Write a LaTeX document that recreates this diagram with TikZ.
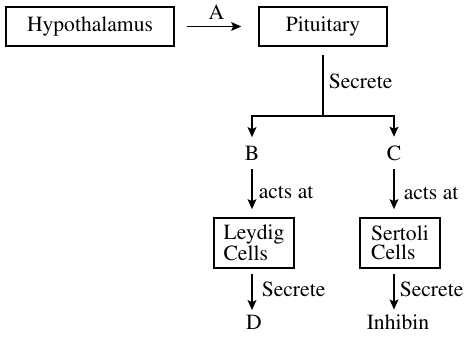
\documentclass[tikz,border=0pt]{standalone}
\usepackage[T1]{fontenc}
\usepackage{mathptmx}
\usepackage{tikz}
\usetikzlibrary{positioning,arrows.meta}

\begin{document}
\begin{tikzpicture}[->,>={Stealth[length=5pt,width=4.4pt,inset=1pt]},thick,x=1pt,y=1pt,
  font=\fontsize{10.8}{11}\selectfont,
  organbox/.style={draw,-,inner sep=0pt,minimum height=19.5pt},
  cellbox/.style={draw,-,align=left,inner sep=0pt,minimum width=40pt,minimum height=25pt,
    font=\fontsize{10.8}{9.6}\selectfont},
  hormone/.style={inner sep=4pt},
  endprod/.style={anchor=base,inner sep=2.5pt},
  lbl/.style={-,anchor=west,inner sep=2pt,xshift=0.5pt}]
  \useasboundingbox (0,0) rectangle (235.5,170);

  \node[organbox,minimum width=84pt] (hyp) at (45,156.75) {Hypothalamus};
  \node[organbox,minimum width=64pt] (pit) at (161.5,156.75) {Pituitary};
  \coordinate[below=34.5pt of pit.south] (split);

  \node[hormone] (B) at (126,93.5) {B};
  \node[hormone] (C) at (197,93.5) {C};
  \node[cellbox] (ley) at (127,48.5) {Leydig\\Cells};
  \node[cellbox] (ser) at (200,48.5) {Sertoli\\Cells};
  \node[endprod] (D) at (127,5) {D};
  \node[endprod] (inh) at (199,5) {Inhibin};

  \path (hyp) edge[shorten <=6pt,shorten >=8.5pt] node[above,inner sep=3pt] {A} (pit);
  \draw[-,shorten <=4pt] (pit.south) -- (split) node[lbl,midway] {Secrete};
  \draw (split) -| (B);
  \draw (split) -| (C);

  \draw[shorten >=4pt] (B.south) -- (B.south |- ley.north) node[lbl,midway,xshift=0.5pt] {acts at};
  \draw[shorten >=4pt] (C.south) -- (C.south |- ser.north) node[lbl,midway,xshift=2pt] {acts at};

  \draw[shorten <=2.5pt] (ley.south -| B) -- (D.north -| B) node[lbl,midway,xshift=2pt] {Secrete};
  \draw[shorten <=2.5pt] (ser.south -| C) -- (inh.north -| C) node[lbl,midway] {Secrete};
\end{tikzpicture}
\end{document}
